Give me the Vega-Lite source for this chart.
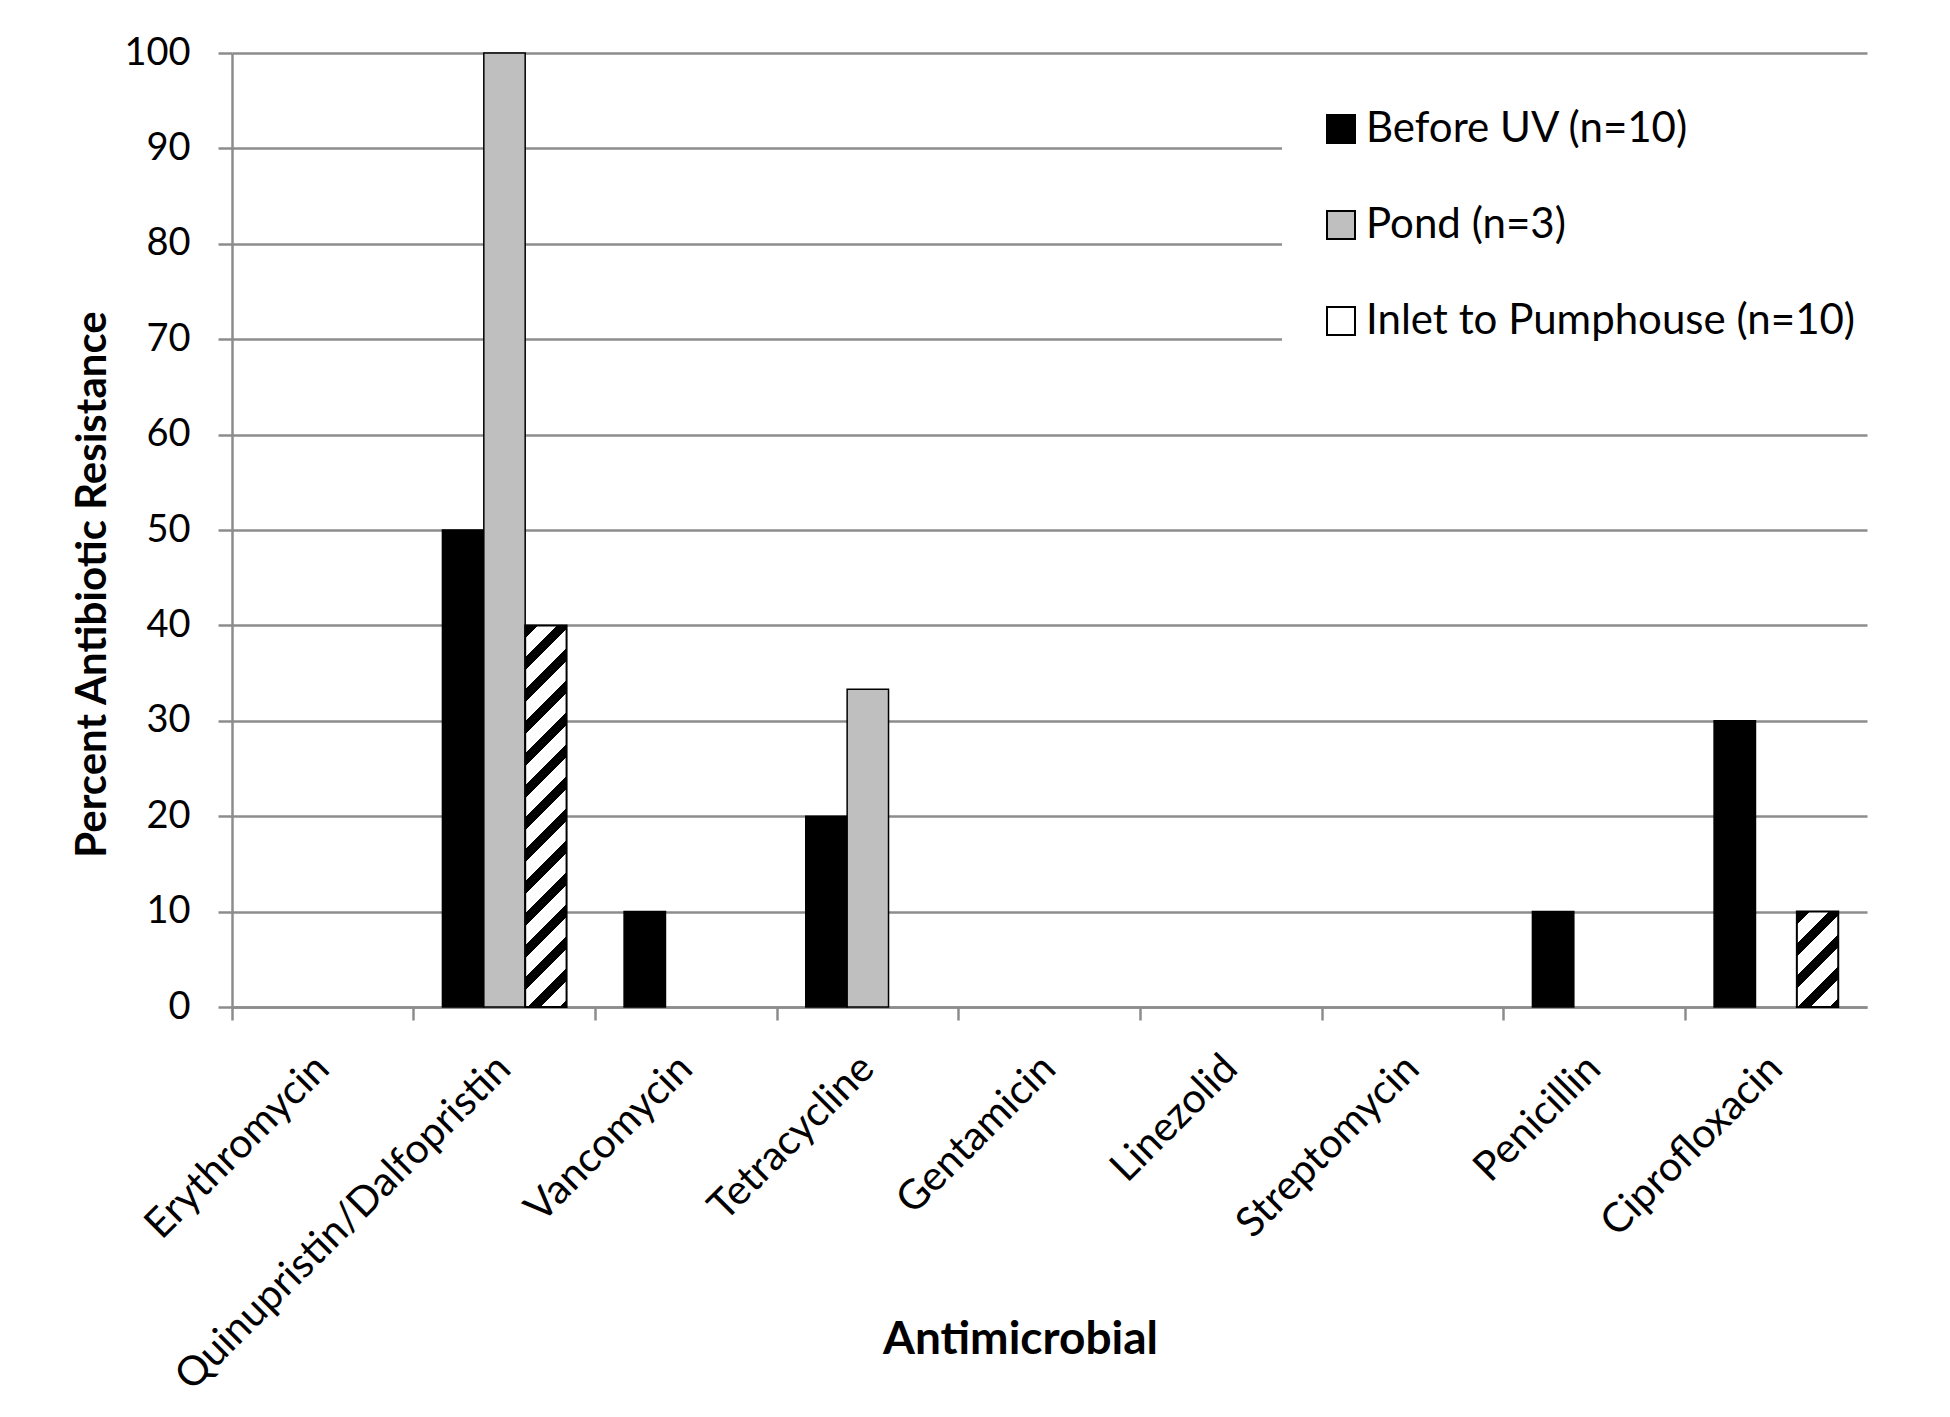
{
  "$schema": "https://vega.github.io/schema/vega-lite/v6.json",
  "width": 1635,
  "height": 954,
  "autosize": "none",
  "padding": {"left": 232, "top": 53, "right": 83, "bottom": 410},
  "background": "white",
  "config": {"view": {"stroke": null}, "font": "Lato"},
  "data": {
    "values": [
      {"antimicrobial": "Erythromycin", "series": "Before UV (n=10)", "value": 0},
      {"antimicrobial": "Erythromycin", "series": "Pond (n=3)", "value": 0},
      {"antimicrobial": "Erythromycin", "series": "Inlet to Pumphouse (n=10)", "value": 0},
      {"antimicrobial": "Quinupristin/Dalfopristin", "series": "Before UV (n=10)", "value": 50},
      {"antimicrobial": "Quinupristin/Dalfopristin", "series": "Pond (n=3)", "value": 100},
      {"antimicrobial": "Quinupristin/Dalfopristin", "series": "Inlet to Pumphouse (n=10)", "value": 40},
      {"antimicrobial": "Vancomycin", "series": "Before UV (n=10)", "value": 10},
      {"antimicrobial": "Vancomycin", "series": "Pond (n=3)", "value": 0},
      {"antimicrobial": "Vancomycin", "series": "Inlet to Pumphouse (n=10)", "value": 0},
      {"antimicrobial": "Tetracycline", "series": "Before UV (n=10)", "value": 20},
      {"antimicrobial": "Tetracycline", "series": "Pond (n=3)", "value": 33.3},
      {"antimicrobial": "Tetracycline", "series": "Inlet to Pumphouse (n=10)", "value": 0},
      {"antimicrobial": "Gentamicin", "series": "Before UV (n=10)", "value": 0},
      {"antimicrobial": "Gentamicin", "series": "Pond (n=3)", "value": 0},
      {"antimicrobial": "Gentamicin", "series": "Inlet to Pumphouse (n=10)", "value": 0},
      {"antimicrobial": "Linezolid", "series": "Before UV (n=10)", "value": 0},
      {"antimicrobial": "Linezolid", "series": "Pond (n=3)", "value": 0},
      {"antimicrobial": "Linezolid", "series": "Inlet to Pumphouse (n=10)", "value": 0},
      {"antimicrobial": "Streptomycin", "series": "Before UV (n=10)", "value": 0},
      {"antimicrobial": "Streptomycin", "series": "Pond (n=3)", "value": 0},
      {"antimicrobial": "Streptomycin", "series": "Inlet to Pumphouse (n=10)", "value": 0},
      {"antimicrobial": "Penicillin", "series": "Before UV (n=10)", "value": 10},
      {"antimicrobial": "Penicillin", "series": "Pond (n=3)", "value": 0},
      {"antimicrobial": "Penicillin", "series": "Inlet to Pumphouse (n=10)", "value": 0},
      {"antimicrobial": "Ciprofloxacin", "series": "Before UV (n=10)", "value": 30},
      {"antimicrobial": "Ciprofloxacin", "series": "Pond (n=3)", "value": 0},
      {"antimicrobial": "Ciprofloxacin", "series": "Inlet to Pumphouse (n=10)", "value": 10}
    ]
  },
  "encoding": {
    "x": {
      "field": "antimicrobial",
      "type": "nominal",
      "scale": {
        "domain": ["Erythromycin", "Quinupristin/Dalfopristin", "Vancomycin", "Tetracycline", "Gentamicin", "Linezolid", "Streptomycin", "Penicillin", "Ciprofloxacin"],
        "paddingInner": 0,
        "paddingOuter": 0
      },
      "axis": {
        "title": "Antimicrobial",
        "titleFont": "Lato",
        "titleFontSize": 46,
        "titleFontWeight": "bold",
        "titleColor": "black",
        "titleX": 788,
        "titleY": 346,
        "titleAlign": "center",
        "titleBaseline": "alphabetic",
        "labelAngle": -45,
        "labelAlign": "right",
        "labelBaseline": "middle",
        "labelFont": "Lato",
        "labelFontSize": 41,
        "labelColor": "black",
        "labelPadding": 42,
        "labelLimit": 0,
        "labelOverlap": false,
        "bandPosition": 0,
        "tickSize": 13,
        "tickColor": "#8c8c8c",
        "tickWidth": 2.5,
        "domainColor": "#8c8c8c",
        "domainWidth": 2.5,
        "grid": false
      }
    },
    "xOffset": {
      "field": "series",
      "type": "nominal",
      "scale": {
        "domain": ["Before UV (n=10)", "Pond (n=3)", "Inlet to Pumphouse (n=10)"],
        "paddingInner": 0,
        "paddingOuter": 0.695
      }
    },
    "y": {
      "field": "value",
      "type": "quantitative",
      "scale": {"domain": [0, 100], "nice": false},
      "axis": {
        "title": "Percent Antibiotic Resistance",
        "titleFont": "Lato",
        "titleFontSize": 42,
        "titleFontWeight": "bold",
        "titleColor": "black",
        "titleX": -127,
        "titleY": 531,
        "titleAngle": -90,
        "titleAlign": "center",
        "titleBaseline": "alphabetic",
        "values": [0, 10, 20, 30, 40, 50, 60, 70, 80, 90, 100],
        "labelFont": "Lato",
        "labelFontSize": 38,
        "labelColor": "black",
        "labelPadding": 28,
        "tickSize": 14,
        "tickColor": "#8c8c8c",
        "tickWidth": 2.5,
        "domainColor": "#8c8c8c",
        "domainWidth": 2.5,
        "gridColor": "#8c8c8c",
        "gridWidth": 2.5
      }
    }
  },
  "layer": [
    {
      "transform": [{"filter": "datum.series !== 'Inlet to Pumphouse (n=10)' && datum.value > 0"}],
      "mark": {"type": "bar", "stroke": "black", "strokeWidth": 1.5},
      "encoding": {
        "color": {
          "field": "series",
          "type": "nominal",
          "scale": {
            "domain": ["Before UV (n=10)", "Pond (n=3)", "Inlet to Pumphouse (n=10)"],
            "range": ["#000000", "#bfbfbf", "#ffffff"]
          },
          "legend": {
            "orient": "none",
            "legendX": 1050,
            "legendY": 17,
            "padding": 38,
            "fillColor": "white",
            "title": null,
            "symbolType": "square",
            "symbolSize": 784,
            "symbolStrokeWidth": 2,
            "labelFont": "Lato",
            "labelFontSize": 42,
            "labelColor": "black",
            "labelOffset": 4,
            "labelLimit": 0,
            "rowPadding": 54
          }
        }
      }
    },
    {
      "transform": [{"filter": "datum.series === 'Inlet to Pumphouse (n=10)' && datum.value >= 20"}],
      "mark": {
        "type": "bar",
        "stroke": "black",
        "strokeWidth": 2,
        "color": {
          "gradient": "linear",
          "x1": 0, "y1": 0, "x2": 0.1189, "y2": 1.0956,
          "stops": [
            {"offset": 0, "color": "#000000"}, {"offset": 0.0303, "color": "#000000"}, {"offset": 0.0303, "color": "#ffffff"}, {"offset": 0.0757, "color": "#ffffff"},
            {"offset": 0.0757, "color": "#000000"}, {"offset": 0.1060, "color": "#000000"}, {"offset": 0.1060, "color": "#ffffff"}, {"offset": 0.1514, "color": "#ffffff"},
            {"offset": 0.1514, "color": "#000000"}, {"offset": 0.1817, "color": "#000000"}, {"offset": 0.1817, "color": "#ffffff"}, {"offset": 0.2271, "color": "#ffffff"},
            {"offset": 0.2271, "color": "#000000"}, {"offset": 0.2574, "color": "#000000"}, {"offset": 0.2574, "color": "#ffffff"}, {"offset": 0.3028, "color": "#ffffff"},
            {"offset": 0.3028, "color": "#000000"}, {"offset": 0.3331, "color": "#000000"}, {"offset": 0.3331, "color": "#ffffff"}, {"offset": 0.3785, "color": "#ffffff"},
            {"offset": 0.3785, "color": "#000000"}, {"offset": 0.4088, "color": "#000000"}, {"offset": 0.4088, "color": "#ffffff"}, {"offset": 0.4542, "color": "#ffffff"},
            {"offset": 0.4542, "color": "#000000"}, {"offset": 0.4845, "color": "#000000"}, {"offset": 0.4845, "color": "#ffffff"}, {"offset": 0.5299, "color": "#ffffff"},
            {"offset": 0.5299, "color": "#000000"}, {"offset": 0.5602, "color": "#000000"}, {"offset": 0.5602, "color": "#ffffff"}, {"offset": 0.6056, "color": "#ffffff"},
            {"offset": 0.6056, "color": "#000000"}, {"offset": 0.6359, "color": "#000000"}, {"offset": 0.6359, "color": "#ffffff"}, {"offset": 0.6813, "color": "#ffffff"},
            {"offset": 0.6813, "color": "#000000"}, {"offset": 0.7116, "color": "#000000"}, {"offset": 0.7116, "color": "#ffffff"}, {"offset": 0.7570, "color": "#ffffff"},
            {"offset": 0.7570, "color": "#000000"}, {"offset": 0.7873, "color": "#000000"}, {"offset": 0.7873, "color": "#ffffff"}, {"offset": 0.8327, "color": "#ffffff"},
            {"offset": 0.8327, "color": "#000000"}, {"offset": 0.8630, "color": "#000000"}, {"offset": 0.8630, "color": "#ffffff"}, {"offset": 0.9084, "color": "#ffffff"},
            {"offset": 0.9084, "color": "#000000"}, {"offset": 0.9387, "color": "#000000"}, {"offset": 0.9387, "color": "#ffffff"}, {"offset": 0.9841, "color": "#ffffff"},
            {"offset": 0.9841, "color": "#000000"}, {"offset": 1, "color": "#000000"}
          ]
        }
      },
      "encoding": {}
    },
    {
      "transform": [{"filter": "datum.series === 'Inlet to Pumphouse (n=10)' && datum.value > 0 && datum.value < 20"}],
      "mark": {
        "type": "bar",
        "stroke": "black",
        "strokeWidth": 2,
        "color": {
          "gradient": "linear",
          "x1": 0, "y1": 0, "x2": 0.5237, "y2": 1.2067,
          "stops": [
            {"offset": 0, "color": "#000000"}, {"offset": 0.0936, "color": "#000000"}, {"offset": 0.0936, "color": "#ffffff"}, {"offset": 0.2339, "color": "#ffffff"},
            {"offset": 0.2339, "color": "#000000"}, {"offset": 0.3275, "color": "#000000"}, {"offset": 0.3275, "color": "#ffffff"}, {"offset": 0.4678, "color": "#ffffff"},
            {"offset": 0.4678, "color": "#000000"}, {"offset": 0.5614, "color": "#000000"}, {"offset": 0.5614, "color": "#ffffff"}, {"offset": 0.7017, "color": "#ffffff"},
            {"offset": 0.7017, "color": "#000000"}, {"offset": 0.7953, "color": "#000000"}, {"offset": 0.7953, "color": "#ffffff"}, {"offset": 0.9356, "color": "#ffffff"},
            {"offset": 0.9356, "color": "#000000"}, {"offset": 1, "color": "#000000"}
          ]
        }
      },
      "encoding": {}
    }
  ]
}
